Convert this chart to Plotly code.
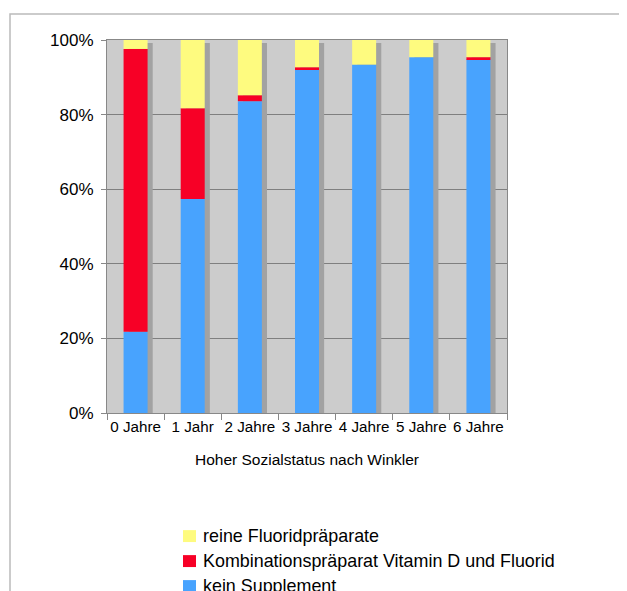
import plotly.graph_objects as go

categories = ["0 Jahre", "1 Jahr", "2 Jahre", "3 Jahre", "4 Jahre", "5 Jahre", "6 Jahre"]
kein_supplement = [21.8, 57.4, 83.6, 92.2, 93.4, 95.4, 94.9]
kombination = [75.8, 24.3, 1.6, 0.5, 0.0, 0.0, 0.5]
reine_fluorid = [2.4, 18.3, 14.8, 7.3, 6.6, 4.6, 4.6]
series_names = ["reine Fluoridpräparate", "Kombinationspräparat Vitamin D und Fluorid", "kein Supplement"]
series_colors = ["#fefb7f", "#f70026", "#48a3fe"]

base_red = [b for b in kein_supplement]
base_yellow = [b + r for b, r in zip(kein_supplement, kombination)]
totals = [b + r + y for b, r, y in zip(kein_supplement, kombination, reine_fluorid)]

FONT = "Liberation Sans, Arial, sans-serif"

fig = go.Figure()
# shadow behind bars
fig.add_trace(go.Bar(x=categories, y=[t - 0.8 for t in totals], base=0, width=0.42, offset=-0.21 + 0.09,
                     marker=dict(color="#a2a2a2", line_width=0), showlegend=False, hoverinfo="skip"))
fig.add_trace(go.Bar(x=categories, y=kein_supplement, base=0, name=series_names[2], width=0.42, offset=-0.21,
                     marker=dict(color=series_colors[2], line_width=0), showlegend=False))
fig.add_trace(go.Bar(x=categories, y=kombination, base=base_red, name=series_names[1],
                     width=0.42, offset=-0.21, marker=dict(color=series_colors[1], line_width=0), showlegend=False))
fig.add_trace(go.Bar(x=categories, y=reine_fluorid, base=base_yellow, name=series_names[0],
                     width=0.42, offset=-0.21, marker=dict(color=series_colors[0], line_width=0), showlegend=False))

shapes = [dict(type="rect", xref="paper", yref="paper", x0=-0.2425, x1=1.2825, y0=-0.6, y1=1.07,
               line=dict(color="#bbbbbb", width=1.5), fillcolor="rgba(0,0,0,0)", layer="below")]
annotations = [dict(text="Hoher Sozialstatus nach Winkler", xref="paper", yref="paper", x=0.5, y=-0.126,
                    xanchor="center", yanchor="middle", showarrow=False, font=dict(size=15.5, family=FONT))]
legend_y = [-0.33, -0.397, -0.464]
for name, col, yc in zip(series_names, series_colors, legend_y):
    shapes.append(dict(type="rect", xref="paper", yref="paper", x0=0.19, x1=0.2225, y0=yc - 0.016, y1=yc + 0.016,
                       line=dict(width=0), fillcolor=col))
    annotations.append(dict(text=name, xref="paper", yref="paper", x=0.235, y=yc, xanchor="left", yanchor="middle",
                            showarrow=False, font=dict(size=17.9, family=FONT)))

fig.update_layout(
    barmode="overlay",
    width=627, height=591,
    margin=dict(l=99, r=128, t=32, b=186),
    paper_bgcolor="white",
    plot_bgcolor="#cccccc",
    font=dict(family=FONT, color="black"),
    showlegend=False,
    xaxis=dict(tickfont=dict(size=15.2), tickangle=0, ticks="outside", tickson="boundaries", ticklen=6,
               tickcolor="#888888", automargin=False,
               showline=True, linecolor="#888888", linewidth=1, mirror=True, showgrid=False,
               range=[-0.5, 6.5]),
    yaxis=dict(range=[0, 100], tickvals=[0, 20, 40, 60, 80, 100], automargin=False,
               ticktext=["0%", "20%", "40%", "60%", "80%", "100%"], tickfont=dict(size=17),
               ticklabelstandoff=4,
               showgrid=True, gridcolor="#7f7f7f", gridwidth=1, ticks="outside", ticklen=5, tickcolor="#888888",
               showline=True, linecolor="#888888", linewidth=1, mirror=True, zeroline=False),
    shapes=shapes,
    annotations=annotations,
)

fig.write_html("out.html")
